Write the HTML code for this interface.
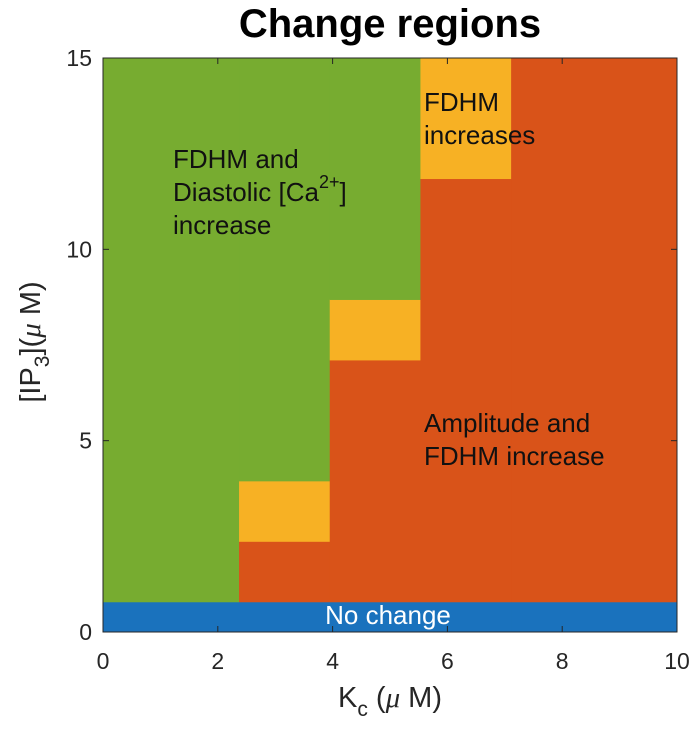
<!DOCTYPE html>
<html><head><meta charset="utf-8"><style>
body{margin:0;background:#fff;width:697px;height:728px;overflow:hidden;font-family:"Liberation Sans",Arial,sans-serif}
</style></head><body>
<svg id="chart" width="697" height="728" xmlns="http://www.w3.org/2000/svg" font-family="Liberation Sans, Arial, sans-serif">
<g id="cells"></g>
<g id="axes"></g>
</svg>
<script>
// Region data: column edges (Kc) and segments [y0, y1, region]
const colEdges = [0, 2.37, 3.95, 5.53, 7.11, 10];
const colSegments = [
  [[0,0.79,'none'],[0.79,15,'green']],
  [[0,0.79,'none'],[0.79,2.37,'amp'],[2.37,3.95,'fdhm'],[3.95,15,'green']],
  [[0,0.79,'none'],[0.79,7.11,'amp'],[7.11,8.69,'fdhm'],[8.69,15,'green']],
  [[0,0.79,'none'],[0.79,11.85,'amp'],[11.85,15,'fdhm']],
  [[0,0.79,'none'],[0.79,15,'amp']]
];
const xTicks = [0,2,4,6,8,10];
const yTicks = [0,5,10,15];
const colors = {none:'#1a72bd', green:'#77ac30', amp:'#d95319', fdhm:'#f7b124'};

const X0=103, X1=677, Y0=632, Y1=58;
const sx = v => X0 + (v/10)*(X1-X0);
const sy = v => Y0 - (v/15)*(Y0-Y1);
const NS='http://www.w3.org/2000/svg';
const cells=document.getElementById('cells');
const axes=document.getElementById('axes');
function mk(tag, attrs, parent){const e=document.createElementNS(NS,tag);for(const k in attrs)e.setAttribute(k,attrs[k]);parent.appendChild(e);return e;}

colSegments.forEach((segs,i)=>{
  segs.forEach(s=>{
    const r=mk('rect',{x:sx(colEdges[i]),y:sy(s[1]),width:sx(colEdges[i+1])-sx(colEdges[i])+0.5,height:sy(s[0])-sy(s[1])+0.5,fill:colors[s[2]]},cells);
    
    
  });
});

const fr=mk('rect',{x:X0,y:Y1,width:X1-X0,height:Y0-Y1,fill:'none',stroke:'#262626','stroke-width':1},axes);



xTicks.forEach(t=>{
  mk('line',{x1:sx(t),x2:sx(t),y1:Y0,y2:Y0-6,stroke:'#262626'},axes);
  mk('line',{x1:sx(t),x2:sx(t),y1:Y1,y2:Y1+6,stroke:'#262626'},axes);
  const tx=mk('text',{x:sx(t),y:669,'text-anchor':'middle','font-size':23,fill:'#262626'},axes);
  tx.textContent=t;
  
  
});
yTicks.forEach(t=>{
  mk('line',{x1:X0,x2:X0+6,y1:sy(t),y2:sy(t),stroke:'#262626'},axes);
  mk('line',{x1:X1,x2:X1-6,y1:sy(t),y2:sy(t),stroke:'#262626'},axes);
  const tx=mk('text',{x:92,y:sy(t)+8,'text-anchor':'end','font-size':23,fill:'#262626'},axes);
  tx.textContent=t;
  
  
});
</script>
<svg style="position:absolute;left:0;top:0" width="697" height="728" xmlns="http://www.w3.org/2000/svg" font-family="Liberation Sans, Arial, sans-serif">
<text x="390" y="37" text-anchor="middle" font-size="40" font-weight="bold" fill="#000">Change regions</text>
<text x="390" y="707" text-anchor="middle" font-size="29" fill="#262626">K<tspan font-size="21" dy="9">c</tspan><tspan dy="-9"> (</tspan><tspan font-family="Liberation Serif, serif" font-style="italic">μ</tspan> M)</text>
<text transform="translate(40,342) rotate(-90)" text-anchor="middle" font-size="29" fill="#262626">[IP<tspan font-size="21" dy="9">3</tspan><tspan dy="-9">](</tspan><tspan font-family="Liberation Serif, serif" font-style="italic">μ</tspan> M)</text>
<g font-size="26" fill="#111">
<text x="173" y="168">FDHM and</text>
<text x="173" y="201">Diastolic [Ca<tspan font-size="18" dy="-13">2+</tspan><tspan dy="13">]</tspan></text>
<text x="173" y="234">increase</text>
<text x="424" y="111">FDHM</text>
<text x="424" y="144">increases</text>
<text x="424" y="432">Amplitude and</text>
<text x="424" y="465">FDHM increase</text>
<text x="388" y="624" text-anchor="middle" fill="#fff">No change</text>
</g>
</svg>
</body></html>
